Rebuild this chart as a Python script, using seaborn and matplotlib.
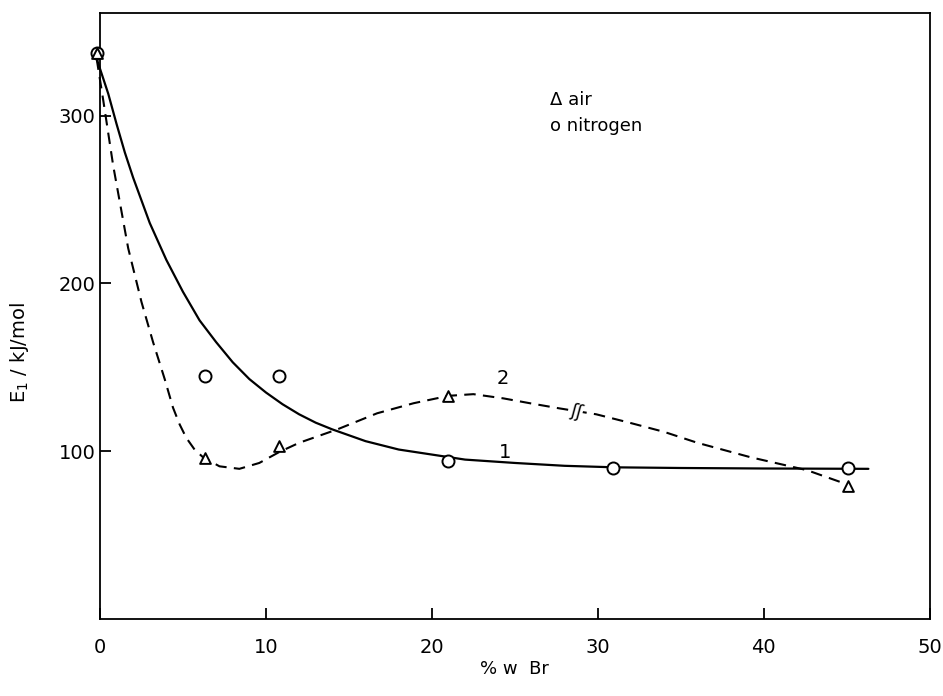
import matplotlib
matplotlib.use("Agg")
import matplotlib.pyplot as plt
import seaborn as sns
import pandas as pd

# ---- data ----
air_x = [-0.2, 6.3, 10.8, 21.0, 45.1]
air_y = [337, 96, 103, 133, 79]

nitrogen_x = [-0.2, 6.3, 10.8, 21.0, 30.9, 45.1]
nitrogen_y = [337, 145, 145, 94, 90, 90]

curve1_x = [-0.2, 0.5, 1, 1.5, 2, 3, 4, 5, 6, 7, 8, 9, 10, 11, 12, 13, 14,
            16, 18, 20, 22, 25, 28, 31, 35, 40, 46.3]
curve1_y = [334, 313, 295, 278, 263, 236, 214, 195, 178, 165, 153, 143, 135,
            128, 122, 117, 113, 106, 101, 98, 95, 93, 91.3, 90.4, 90, 89.7, 89.5]

curve2_x = [-0.2, 0.2, 0.8, 1.7, 2.5, 3.2, 3.9, 4.4, 4.8, 5.2, 5.7, 6.2, 7.2,
            8.4, 9.6, 10.8, 12, 14.3, 16.7, 18.9, 21, 22.5, 24.3, 25.9, 27.7,
            29.9, 31.9, 34, 36, 39.2, 42.6, 44.8]
curve2_y = [334, 309, 270, 221, 189, 165, 143, 126, 116, 108, 101, 96.5, 91,
            89.5, 93, 99.5, 105, 113, 122.6, 128.6, 133, 134, 131.5, 128.6,
            125.5, 122, 117, 111.5, 105, 96.4, 88.7, 81]

x_ticks = [0, 10, 20, 30, 40, 50]
y_ticks = [100, 200, 300]

# ---- figure ----
sns.set_style("ticks")
plt.rcParams["font.family"] = ["DejaVu Sans"]
plt.rcParams["text.color"] = "black"
plt.rcParams["axes.labelcolor"] = "black"

fig = plt.figure(figsize=(9.43, 6.96), dpi=100)
ax = fig.add_axes([0.106, 0.1106, 0.880, 0.8704])

df1 = pd.DataFrame({"x": curve1_x, "y": curve1_y})
df2 = pd.DataFrame({"x": curve2_x, "y": curve2_y})
sns.lineplot(data=df1, x="x", y="y", ax=ax, sort=False, estimator=None,
             color="black", linewidth=1.6, clip_on=False)
sns.lineplot(data=df2, x="x", y="y", ax=ax, sort=False, estimator=None,
             color="black", linewidth=1.5, clip_on=False)
ax.lines[1].set_dashes((5.5, 3.5))

dfa = pd.DataFrame({"x": air_x, "y": air_y})
dfn = pd.DataFrame({"x": nitrogen_x, "y": nitrogen_y})
sns.scatterplot(data=dfn, x="x", y="y", ax=ax, marker="o", s=75,
                facecolor="white", edgecolor="black", linewidth=1.4,
                zorder=5, clip_on=False)
sns.scatterplot(data=dfa, x="x", y="y", ax=ax, marker="^", s=60,
                facecolor="white", edgecolor="black", linewidth=1.4,
                zorder=6, clip_on=False)

# curve labels
ax.text(24.4, 99.5, "1", fontsize=14, ha="center", va="center", color="black")
ax.text(24.3, 143.5, "2", fontsize=14, ha="center", va="center", color="black")
# break mark on curve 2
ax.text(28.7, 123.5, "ʃʃ", fontsize=13, ha="center", va="center", rotation=-15,
        color="black",
        bbox=dict(facecolor="white", edgecolor="none", pad=0.3), zorder=7)

# legend as text
ax.text(27.1, 309, "Δ air", fontsize=13, ha="left", va="center", color="black")
ax.text(27.1, 294, "o nitrogen", fontsize=13, ha="left", va="center", color="black")

ax.set_xlim(0, 50)
ax.set_ylim(0, 361)
ax.set_xticks(x_ticks)
ax.set_xticklabels([str(t) for t in x_ticks])
ax.set_yticks(y_ticks)
ax.set_yticklabels([str(t) for t in y_ticks])
ax.tick_params(axis="x", direction="in", length=8, width=1.3, pad=14,
               labelsize=14, colors="black")
ax.tick_params(axis="y", direction="in", length=8, width=1.3, pad=3,
               labelsize=14, colors="black")
for s in ax.spines.values():
    s.set_visible(True)
    s.set_linewidth(1.3)
    s.set_color("black")

ax.set_xlabel("% w  Br", fontsize=13, labelpad=2, color="black")
ax.set_ylabel("E$_1$ / kJ/mol", fontsize=14, color="black")
ax.yaxis.set_label_coords(-0.083, 0.44)

fig.savefig("out.png", dpi=100)
